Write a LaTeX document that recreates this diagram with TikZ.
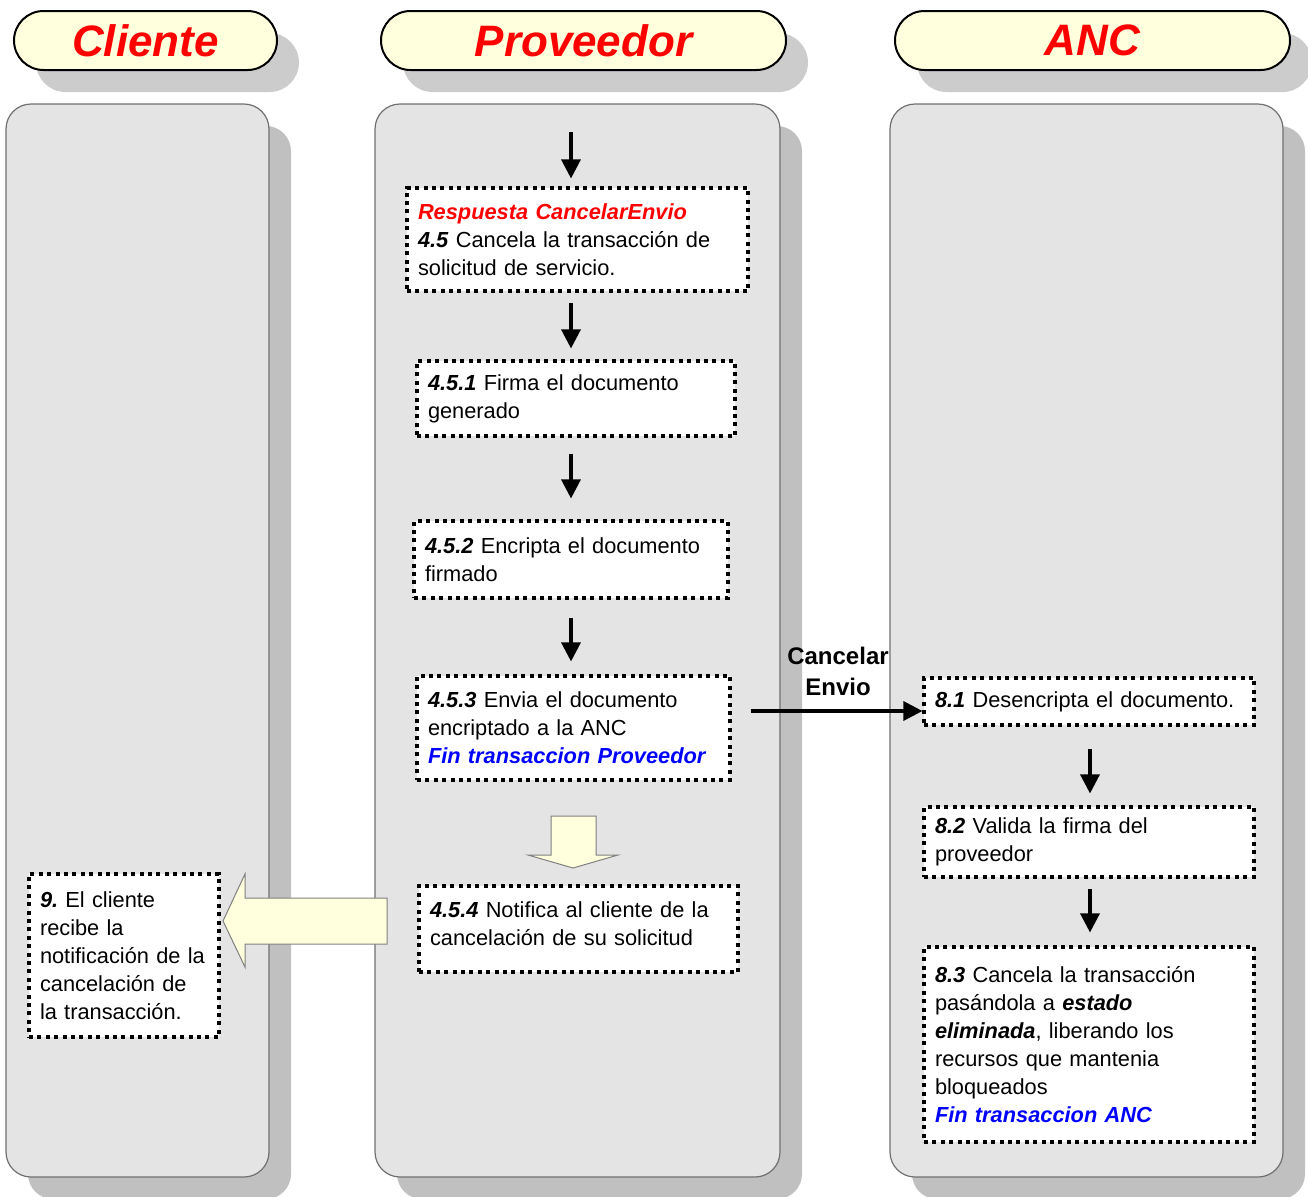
\documentclass[tikz,border=0pt]{standalone}
\usepackage{fontspec}
\setmainfont{Liberation Sans}
\usetikzlibrary{arrows.meta,shadows}

\definecolor{lanefill}{HTML}{E4E4E4}
\definecolor{laneline}{HTML}{707070}
\definecolor{laneshadow}{HTML}{C0C0C0}
\definecolor{hdrfill}{HTML}{FFFFDD}
\definecolor{hdrshadow}{HTML}{CCCCCC}
\definecolor{blockfill}{HTML}{FFFFDD}
\definecolor{blockline}{HTML}{808080}

\newcommand\stepno[1]{\textbf{\textit{#1\nocorr}}}

\tikzset{
  lane/.style={draw=laneline, line width=0.6pt, fill=lanefill, rounded corners=12.5pt,
    minimum height=536.5pt, inner sep=0pt,
    general shadow={fill=laneshadow, shadow xshift=11pt, shadow yshift=-11pt}},
  header/.style={draw=black, line width=1pt, fill=hdrfill, rounded corners=14.75pt,
    minimum height=29.5pt, inner sep=0pt, text=red,
    font=\fontsize{22}{24}\selectfont\bfseries\itshape,
    general shadow={fill=hdrshadow, shadow xshift=11pt, shadow yshift=-11pt}},
  stepbox/.style={draw=black, fill=white, line width=1.55pt, dash pattern=on 2pt off 2.2pt,
    inner xsep=5.5pt, inner ysep=0pt, align=left, font=\fontsize{10.9}{14}\selectfont\frenchspacing},
  flow/.style={line width=1.6pt, -{Triangle[length=9.5pt,width=9.5pt]}},
  block/.style={draw=blockline, line width=0.5pt, fill=blockfill},
}

\begin{document}
\begin{tikzpicture}[x=0.5pt,y=-0.5pt]
\useasboundingbox (0,0) rectangle (1308,1196);

% swimlane headers
\node[header, minimum width=131.5pt] (hCli)  at (145.5,40.5)  {Cliente};
\node[header, minimum width=202.5pt] (hProv) at (583.5,40.5)  {Proveedor};
\node[header, minimum width=197.5pt] (hAnc)  at (1092.5,40.5) {ANC};

% swimlanes
\node[lane, minimum width=131.5pt] (laneCli)  at (137.5,640.5)  {};
\node[lane, minimum width=202.5pt] (laneProv) at (577.5,640.5)  {};
\node[lane, minimum width=196.5pt] (laneAnc)  at (1086.5,640.5) {};

% Proveedor steps
\node[stepbox, minimum width=170.5pt, minimum height=51.5pt, text width=159.5pt] (b45) at (577.5,239.5)
  {\textcolor{red}{\stepno{Respuesta CancelarEnvio}}\\ \stepno{4.5} Cancela la transacción de\\ solicitud de servicio.};
\node[stepbox, minimum width=159pt, minimum height=37.5pt, text width=148pt] (b451) at (576,398.5)
  {\stepno{4.5.1} Firma el documento\\ generado};
\node[stepbox, minimum width=157pt, minimum height=38.5pt, text width=146pt] (b452) at (571,559.5)
  {\stepno{4.5.2} Encripta el documento\\ firmado};
\node[stepbox, minimum width=156.5pt, minimum height=52pt, text width=145.5pt] (b453) at (573.5,728)
  {\stepno{4.5.3} Envia el documento\\ encriptado a la ANC\\ \textcolor{blue}{\stepno{Fin transaccion Proveedor}}};
\node[stepbox, minimum width=159.5pt, minimum height=43pt, text width=148.5pt] (b454) at (578.5,929)
  {\stepno{4.5.4} Notifica al cliente de la\\ cancelación de su solicitud\\[-9pt]\mbox{}};

% Cliente step
\node[stepbox, minimum width=95pt, minimum height=81.5pt, text width=84pt] (b9) at (124,955.5)
  {\stepno{9.} El cliente\\ recibe la\\ notificación de la\\ cancelación de\\ la transacción.};

% ANC steps
\node[stepbox, minimum width=165pt, minimum height=23.5pt, text width=154pt] (b81) at (1089,701.5)
  {\stepno{8.1} Desencripta el documento.};
\node[stepbox, minimum width=165pt, minimum height=35pt, text width=154pt] (b82) at (1089,842)
  {\stepno{8.2} Valida la firma del\\ proveedor};
\node[stepbox, minimum width=165pt, minimum height=97.5pt, text width=154pt] (b83) at (1089,1044.5)
  {\stepno{8.3} Cancela la transacción\\ pasándola a \stepno{estado}\\ \stepno{eliminada}, liberando los\\ recursos que mantenia\\ bloqueados\\ \textcolor{blue}{\stepno{Fin transaccion ANC}}};

% flow connectors
\coordinate (colP) at (571,132);
\coordinate (colA) at (1090,747);
\coordinate (sendY) at (749,711);

\draw[flow, shorten >=4pt] (colP) -- (colP |- b45.north);
\draw[flow, shorten <=5pt, shorten >=5.5pt] (colP |- b45.south) -- (colP |- b451.north);
\draw[flow, shorten <=8pt, shorten >=10.5pt] (colP |- b451.south) -- (colP |- b452.north);
\draw[flow, shorten <=9pt, shorten >=6.5pt] (colP |- b452.south) -- (colP |- b453.north);
\draw[flow, shorten <=9.5pt] (b453.east |- sendY) -- (b81.west |- sendY);
\draw[flow, shorten <=11pt, shorten >=6pt] (colA |- b81.south) -- (colA |- b82.north);
\draw[flow, shorten <=5pt, shorten >=6.5pt] (colA |- b82.south) -- (colA |- b83.north);

\node[font=\fontsize{12}{15.5}\selectfont\bfseries, align=center, inner sep=0pt] (lblSend) at (838,671.5) {Cancelar\\Envio};

% block arrows
\draw[block] (551,816) -- (596,816) -- (596,855) -- (618,855) -- (573,868) -- (528,855) -- (551,855) -- cycle;
\draw[block] (387,898) -- (245,898) -- (245,874) -- (223,921) -- (245,967) -- (245,944) -- (387,944) -- cycle;

\end{tikzpicture}
\end{document}
